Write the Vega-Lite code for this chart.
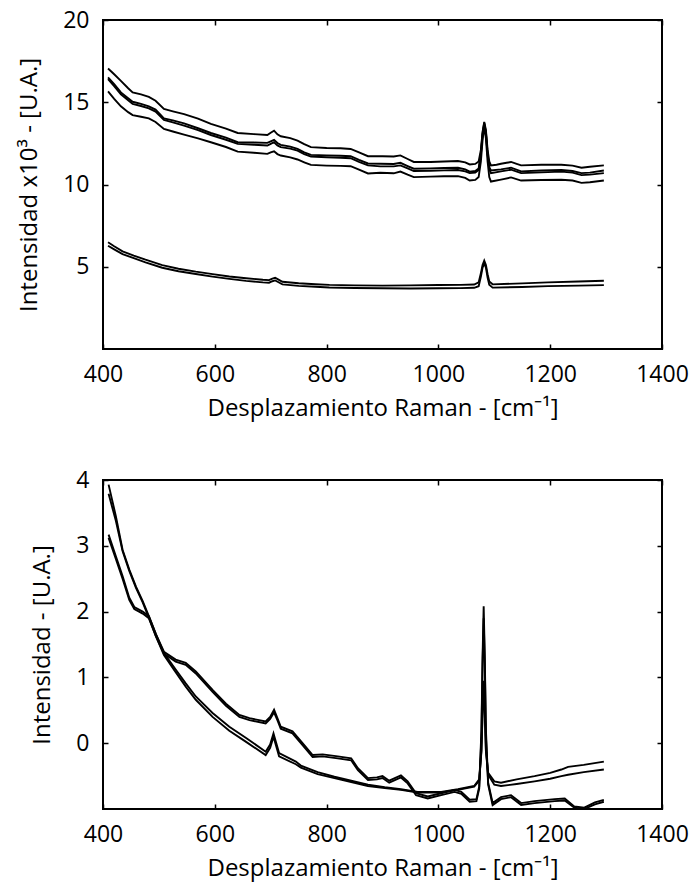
{
"$schema": "https://vega.github.io/schema/vega-lite/v6.json",
"padding": {"left": 16, "top": 8, "right": 10, "bottom": 5},
"spacing": 47,
"datasets": {
"top": [
{"s":"T1","x":409,"y":17.05},{"s":"T1","x":420,"y":16.7},{"s":"T1","x":432,"y":16.3},{"s":"T1","x":445,"y":15.85},{"s":"T1","x":453,"y":15.6},{"s":"T1","x":468,"y":15.48},{"s":"T1","x":482,"y":15.33},{"s":"T1","x":494,"y":15.09},{"s":"T1","x":509,"y":14.59},{"s":"T1","x":525,"y":14.45},{"s":"T1","x":545,"y":14.28},{"s":"T1","x":570,"y":14.0},{"s":"T1","x":593,"y":13.68},{"s":"T1","x":620,"y":13.4},{"s":"T1","x":641,"y":13.13},{"s":"T1","x":670,"y":13.06},{"s":"T1","x":694,"y":13.01},{"s":"T1","x":700,"y":13.15},{"s":"T1","x":706,"y":13.27},{"s":"T1","x":712,"y":13.05},{"s":"T1","x":718,"y":12.93},{"s":"T1","x":735,"y":12.82},{"s":"T1","x":748,"y":12.67},{"s":"T1","x":760,"y":12.45},{"s":"T1","x":772,"y":12.27},{"s":"T1","x":800,"y":12.22},{"s":"T1","x":825,"y":12.2},{"s":"T1","x":843,"y":12.16},{"s":"T1","x":858,"y":11.95},{"s":"T1","x":874,"y":11.72},{"s":"T1","x":900,"y":11.72},{"s":"T1","x":920,"y":11.7},{"s":"T1","x":932,"y":11.77},{"s":"T1","x":945,"y":11.55},{"s":"T1","x":956,"y":11.37},{"s":"T1","x":986,"y":11.37},{"s":"T1","x":1010,"y":11.4},{"s":"T1","x":1035,"y":11.43},{"s":"T1","x":1048,"y":11.35},{"s":"T1","x":1056,"y":11.22},{"s":"T1","x":1066,"y":11.25},{"s":"T1","x":1072,"y":11.4},{"s":"T1","x":1076,"y":12.1},{"s":"T1","x":1079,"y":13.2},{"s":"T1","x":1082,"y":13.8},{"s":"T1","x":1085,"y":13.3},{"s":"T1","x":1088,"y":12.1},{"s":"T1","x":1091,"y":11.4},{"s":"T1","x":1094,"y":11.16},{"s":"T1","x":1104,"y":11.2},{"s":"T1","x":1112,"y":11.26},{"s":"T1","x":1122,"y":11.32},{"s":"T1","x":1130,"y":11.37},{"s":"T1","x":1140,"y":11.25},{"s":"T1","x":1148,"y":11.16},{"s":"T1","x":1184,"y":11.2},{"s":"T1","x":1220,"y":11.2},{"s":"T1","x":1240,"y":11.15},{"s":"T1","x":1256,"y":11.02},{"s":"T1","x":1271,"y":11.08},{"s":"T1","x":1296,"y":11.16},
{"s":"T2","x":409,"y":16.51},{"s":"T2","x":420,"y":16.1},{"s":"T2","x":432,"y":15.6},{"s":"T2","x":445,"y":15.25},{"s":"T2","x":453,"y":15.03},{"s":"T2","x":468,"y":14.9},{"s":"T2","x":482,"y":14.75},{"s":"T2","x":494,"y":14.55},{"s":"T2","x":509,"y":14.02},{"s":"T2","x":525,"y":13.9},{"s":"T2","x":545,"y":13.72},{"s":"T2","x":570,"y":13.42},{"s":"T2","x":593,"y":13.13},{"s":"T2","x":620,"y":12.85},{"s":"T2","x":641,"y":12.57},{"s":"T2","x":670,"y":12.55},{"s":"T2","x":694,"y":12.53},{"s":"T2","x":700,"y":12.62},{"s":"T2","x":706,"y":12.71},{"s":"T2","x":712,"y":12.52},{"s":"T2","x":718,"y":12.41},{"s":"T2","x":735,"y":12.3},{"s":"T2","x":748,"y":12.16},{"s":"T2","x":760,"y":11.95},{"s":"T2","x":772,"y":11.8},{"s":"T2","x":800,"y":11.77},{"s":"T2","x":825,"y":11.75},{"s":"T2","x":843,"y":11.72},{"s":"T2","x":858,"y":11.5},{"s":"T2","x":874,"y":11.28},{"s":"T2","x":896,"y":11.26},{"s":"T2","x":920,"y":11.25},{"s":"T2","x":932,"y":11.32},{"s":"T2","x":945,"y":11.12},{"s":"T2","x":956,"y":10.96},{"s":"T2","x":986,"y":10.98},{"s":"T2","x":1010,"y":11.0},{"s":"T2","x":1035,"y":11.02},{"s":"T2","x":1048,"y":10.92},{"s":"T2","x":1056,"y":10.78},{"s":"T2","x":1066,"y":10.82},{"s":"T2","x":1072,"y":10.98},{"s":"T2","x":1076,"y":11.9},{"s":"T2","x":1079,"y":13.1},{"s":"T2","x":1082,"y":13.75},{"s":"T2","x":1085,"y":13.2},{"s":"T2","x":1088,"y":11.9},{"s":"T2","x":1091,"y":11.05},{"s":"T2","x":1094,"y":10.85},{"s":"T2","x":1112,"y":10.92},{"s":"T2","x":1130,"y":11.02},{"s":"T2","x":1148,"y":10.8},{"s":"T2","x":1184,"y":10.85},{"s":"T2","x":1220,"y":10.88},{"s":"T2","x":1240,"y":10.82},{"s":"T2","x":1256,"y":10.69},{"s":"T2","x":1271,"y":10.72},{"s":"T2","x":1296,"y":10.85},
{"s":"T3","x":409,"y":16.41},{"s":"T3","x":420,"y":15.98},{"s":"T3","x":432,"y":15.48},{"s":"T3","x":445,"y":15.12},{"s":"T3","x":453,"y":14.9},{"s":"T3","x":468,"y":14.77},{"s":"T3","x":482,"y":14.63},{"s":"T3","x":494,"y":14.43},{"s":"T3","x":509,"y":13.92},{"s":"T3","x":525,"y":13.78},{"s":"T3","x":545,"y":13.58},{"s":"T3","x":570,"y":13.3},{"s":"T3","x":593,"y":13.01},{"s":"T3","x":620,"y":12.72},{"s":"T3","x":641,"y":12.47},{"s":"T3","x":670,"y":12.42},{"s":"T3","x":694,"y":12.37},{"s":"T3","x":700,"y":12.47},{"s":"T3","x":706,"y":12.57},{"s":"T3","x":712,"y":12.38},{"s":"T3","x":718,"y":12.27},{"s":"T3","x":735,"y":12.18},{"s":"T3","x":748,"y":12.06},{"s":"T3","x":760,"y":11.85},{"s":"T3","x":772,"y":11.7},{"s":"T3","x":800,"y":11.66},{"s":"T3","x":825,"y":11.63},{"s":"T3","x":843,"y":11.6},{"s":"T3","x":858,"y":11.38},{"s":"T3","x":874,"y":11.16},{"s":"T3","x":896,"y":11.1},{"s":"T3","x":920,"y":11.1},{"s":"T3","x":932,"y":11.16},{"s":"T3","x":945,"y":10.98},{"s":"T3","x":956,"y":10.82},{"s":"T3","x":986,"y":10.84},{"s":"T3","x":1010,"y":10.86},{"s":"T3","x":1035,"y":10.88},{"s":"T3","x":1048,"y":10.8},{"s":"T3","x":1056,"y":10.69},{"s":"T3","x":1066,"y":10.72},{"s":"T3","x":1072,"y":10.88},{"s":"T3","x":1076,"y":11.8},{"s":"T3","x":1079,"y":13.0},{"s":"T3","x":1082,"y":13.65},{"s":"T3","x":1085,"y":13.1},{"s":"T3","x":1088,"y":11.8},{"s":"T3","x":1091,"y":10.92},{"s":"T3","x":1094,"y":10.69},{"s":"T3","x":1112,"y":10.8},{"s":"T3","x":1130,"y":10.9},{"s":"T3","x":1148,"y":10.69},{"s":"T3","x":1184,"y":10.74},{"s":"T3","x":1220,"y":10.78},{"s":"T3","x":1240,"y":10.72},{"s":"T3","x":1256,"y":10.57},{"s":"T3","x":1271,"y":10.6},{"s":"T3","x":1296,"y":10.69},
{"s":"T4","x":409,"y":15.66},{"s":"T4","x":420,"y":15.2},{"s":"T4","x":432,"y":14.75},{"s":"T4","x":445,"y":14.4},{"s":"T4","x":453,"y":14.22},{"s":"T4","x":468,"y":14.12},{"s":"T4","x":482,"y":14.02},{"s":"T4","x":494,"y":13.8},{"s":"T4","x":509,"y":13.38},{"s":"T4","x":525,"y":13.22},{"s":"T4","x":545,"y":13.03},{"s":"T4","x":570,"y":12.8},{"s":"T4","x":593,"y":12.57},{"s":"T4","x":620,"y":12.28},{"s":"T4","x":641,"y":12.0},{"s":"T4","x":670,"y":11.93},{"s":"T4","x":694,"y":11.86},{"s":"T4","x":700,"y":11.95},{"s":"T4","x":706,"y":12.02},{"s":"T4","x":712,"y":11.85},{"s":"T4","x":718,"y":11.76},{"s":"T4","x":735,"y":11.65},{"s":"T4","x":748,"y":11.52},{"s":"T4","x":760,"y":11.35},{"s":"T4","x":772,"y":11.19},{"s":"T4","x":800,"y":11.15},{"s":"T4","x":825,"y":11.13},{"s":"T4","x":843,"y":11.11},{"s":"T4","x":858,"y":10.9},{"s":"T4","x":874,"y":10.67},{"s":"T4","x":896,"y":10.71},{"s":"T4","x":920,"y":10.68},{"s":"T4","x":932,"y":10.79},{"s":"T4","x":945,"y":10.6},{"s":"T4","x":956,"y":10.45},{"s":"T4","x":986,"y":10.48},{"s":"T4","x":1010,"y":10.5},{"s":"T4","x":1035,"y":10.51},{"s":"T4","x":1048,"y":10.4},{"s":"T4","x":1056,"y":10.24},{"s":"T4","x":1066,"y":10.28},{"s":"T4","x":1072,"y":10.45},{"s":"T4","x":1076,"y":11.4},{"s":"T4","x":1079,"y":12.7},{"s":"T4","x":1082,"y":13.5},{"s":"T4","x":1085,"y":12.8},{"s":"T4","x":1088,"y":11.4},{"s":"T4","x":1091,"y":10.45},{"s":"T4","x":1094,"y":10.18},{"s":"T4","x":1112,"y":10.3},{"s":"T4","x":1130,"y":10.43},{"s":"T4","x":1148,"y":10.24},{"s":"T4","x":1184,"y":10.27},{"s":"T4","x":1220,"y":10.29},{"s":"T4","x":1240,"y":10.24},{"s":"T4","x":1256,"y":10.1},{"s":"T4","x":1271,"y":10.14},{"s":"T4","x":1296,"y":10.24},
{"s":"L1","x":409,"y":6.49},{"s":"L1","x":420,"y":6.25},{"s":"L1","x":435,"y":5.94},{"s":"L1","x":455,"y":5.68},{"s":"L1","x":476,"y":5.43},{"s":"L1","x":506,"y":5.1},{"s":"L1","x":535,"y":4.88},{"s":"L1","x":566,"y":4.7},{"s":"L1","x":596,"y":4.55},{"s":"L1","x":626,"y":4.41},{"s":"L1","x":656,"y":4.3},{"s":"L1","x":686,"y":4.21},{"s":"L1","x":697,"y":4.19},{"s":"L1","x":703,"y":4.28},{"s":"L1","x":708,"y":4.33},{"s":"L1","x":714,"y":4.22},{"s":"L1","x":721,"y":4.09},{"s":"L1","x":750,"y":4.0},{"s":"L1","x":780,"y":3.94},{"s":"L1","x":805,"y":3.9},{"s":"L1","x":850,"y":3.87},{"s":"L1","x":900,"y":3.85},{"s":"L1","x":950,"y":3.87},{"s":"L1","x":1000,"y":3.89},{"s":"L1","x":1040,"y":3.9},{"s":"L1","x":1064,"y":3.92},{"s":"L1","x":1072,"y":4.05},{"s":"L1","x":1076,"y":4.6},{"s":"L1","x":1079,"y":5.1},{"s":"L1","x":1082,"y":5.37},{"s":"L1","x":1085,"y":5.1},{"s":"L1","x":1088,"y":4.55},{"s":"L1","x":1091,"y":4.1},{"s":"L1","x":1097,"y":3.93},{"s":"L1","x":1150,"y":3.99},{"s":"L1","x":1196,"y":4.05},{"s":"L1","x":1250,"y":4.1},{"s":"L1","x":1296,"y":4.15},
{"s":"L2","x":409,"y":6.28},{"s":"L2","x":420,"y":6.06},{"s":"L2","x":435,"y":5.77},{"s":"L2","x":455,"y":5.52},{"s":"L2","x":476,"y":5.27},{"s":"L2","x":506,"y":4.94},{"s":"L2","x":535,"y":4.73},{"s":"L2","x":566,"y":4.56},{"s":"L2","x":596,"y":4.4},{"s":"L2","x":626,"y":4.26},{"s":"L2","x":656,"y":4.14},{"s":"L2","x":686,"y":4.05},{"s":"L2","x":697,"y":4.03},{"s":"L2","x":703,"y":4.12},{"s":"L2","x":708,"y":4.17},{"s":"L2","x":714,"y":4.06},{"s":"L2","x":721,"y":3.93},{"s":"L2","x":750,"y":3.84},{"s":"L2","x":780,"y":3.78},{"s":"L2","x":805,"y":3.74},{"s":"L2","x":850,"y":3.71},{"s":"L2","x":900,"y":3.69},{"s":"L2","x":950,"y":3.68},{"s":"L2","x":1000,"y":3.69},{"s":"L2","x":1040,"y":3.7},{"s":"L2","x":1064,"y":3.72},{"s":"L2","x":1072,"y":3.82},{"s":"L2","x":1076,"y":4.4},{"s":"L2","x":1079,"y":4.95},{"s":"L2","x":1082,"y":5.2},{"s":"L2","x":1085,"y":4.95},{"s":"L2","x":1088,"y":4.35},{"s":"L2","x":1091,"y":3.9},{"s":"L2","x":1097,"y":3.73},{"s":"L2","x":1150,"y":3.77},{"s":"L2","x":1196,"y":3.82},{"s":"L2","x":1250,"y":3.85},{"s":"L2","x":1296,"y":3.88}
],
"bottom": [
{"s":"X1","x":410,"y":3.17},{"s":"X1","x":423,"y":2.84},{"s":"X1","x":435,"y":2.54},{"s":"X1","x":447,"y":2.21},{"s":"X1","x":456,"y":2.07},{"s":"X1","x":471,"y":2.0},{"s":"X1","x":482,"y":1.93},{"s":"X1","x":495,"y":1.65},{"s":"X1","x":509,"y":1.39},{"s":"X1","x":530,"y":1.27},{"s":"X1","x":548,"y":1.22},{"s":"X1","x":566,"y":1.09},{"s":"X1","x":596,"y":0.81},{"s":"X1","x":620,"y":0.6},{"s":"X1","x":644,"y":0.43},{"s":"X1","x":662,"y":0.38},{"s":"X1","x":691,"y":0.33},{"s":"X1","x":699,"y":0.4},{"s":"X1","x":706,"y":0.51},{"s":"X1","x":712,"y":0.38},{"s":"X1","x":718,"y":0.25},{"s":"X1","x":739,"y":0.18},{"s":"X1","x":757,"y":0.0},{"s":"X1","x":775,"y":-0.18},{"s":"X1","x":793,"y":-0.17},{"s":"X1","x":820,"y":-0.2},{"s":"X1","x":844,"y":-0.23},{"s":"X1","x":856,"y":-0.38},{"s":"X1","x":874,"y":-0.53},{"s":"X1","x":890,"y":-0.52},{"s":"X1","x":900,"y":-0.5},{"s":"X1","x":912,"y":-0.57},{"s":"X1","x":933,"y":-0.49},{"s":"X1","x":945,"y":-0.58},{"s":"X1","x":960,"y":-0.76},{"s":"X1","x":981,"y":-0.81},{"s":"X1","x":1005,"y":-0.76},{"s":"X1","x":1029,"y":-0.71},{"s":"X1","x":1041,"y":-0.74},{"s":"X1","x":1056,"y":-0.86},{"s":"X1","x":1068,"y":-0.85},{"s":"X1","x":1073,"y":-0.66},{"s":"X1","x":1077,"y":0.2},{"s":"X1","x":1079,"y":1.3},{"s":"X1","x":1081,"y":2.08},{"s":"X1","x":1083,"y":1.3},{"s":"X1","x":1085,"y":0.2},{"s":"X1","x":1089,"y":-0.6},{"s":"X1","x":1097,"y":-0.91},{"s":"X1","x":1112,"y":-0.82},{"s":"X1","x":1130,"y":-0.79},{"s":"X1","x":1148,"y":-0.91},{"s":"X1","x":1172,"y":-0.88},{"s":"X1","x":1208,"y":-0.85},{"s":"X1","x":1226,"y":-0.84},{"s":"X1","x":1243,"y":-0.96},{"s":"X1","x":1261,"y":-0.98},{"s":"X1","x":1280,"y":-0.9},{"s":"X1","x":1296,"y":-0.86},
{"s":"X2","x":410,"y":3.12},{"s":"X2","x":423,"y":2.8},{"s":"X2","x":435,"y":2.5},{"s":"X2","x":447,"y":2.18},{"s":"X2","x":456,"y":2.04},{"s":"X2","x":471,"y":1.97},{"s":"X2","x":482,"y":1.9},{"s":"X2","x":495,"y":1.62},{"s":"X2","x":509,"y":1.36},{"s":"X2","x":530,"y":1.24},{"s":"X2","x":548,"y":1.19},{"s":"X2","x":566,"y":1.06},{"s":"X2","x":596,"y":0.78},{"s":"X2","x":620,"y":0.57},{"s":"X2","x":644,"y":0.4},{"s":"X2","x":662,"y":0.35},{"s":"X2","x":691,"y":0.3},{"s":"X2","x":699,"y":0.37},{"s":"X2","x":706,"y":0.47},{"s":"X2","x":712,"y":0.35},{"s":"X2","x":718,"y":0.22},{"s":"X2","x":739,"y":0.15},{"s":"X2","x":757,"y":-0.03},{"s":"X2","x":775,"y":-0.21},{"s":"X2","x":793,"y":-0.2},{"s":"X2","x":820,"y":-0.23},{"s":"X2","x":844,"y":-0.26},{"s":"X2","x":856,"y":-0.41},{"s":"X2","x":874,"y":-0.56},{"s":"X2","x":890,"y":-0.55},{"s":"X2","x":900,"y":-0.53},{"s":"X2","x":912,"y":-0.6},{"s":"X2","x":933,"y":-0.52},{"s":"X2","x":945,"y":-0.61},{"s":"X2","x":960,"y":-0.79},{"s":"X2","x":981,"y":-0.84},{"s":"X2","x":1005,"y":-0.79},{"s":"X2","x":1029,"y":-0.74},{"s":"X2","x":1041,"y":-0.77},{"s":"X2","x":1056,"y":-0.89},{"s":"X2","x":1068,"y":-0.88},{"s":"X2","x":1073,"y":-0.69},{"s":"X2","x":1077,"y":0.1},{"s":"X2","x":1079,"y":1.2},{"s":"X2","x":1081,"y":1.9},{"s":"X2","x":1083,"y":1.2},{"s":"X2","x":1085,"y":0.1},{"s":"X2","x":1089,"y":-0.63},{"s":"X2","x":1097,"y":-0.94},{"s":"X2","x":1112,"y":-0.85},{"s":"X2","x":1130,"y":-0.82},{"s":"X2","x":1148,"y":-0.94},{"s":"X2","x":1172,"y":-0.91},{"s":"X2","x":1208,"y":-0.88},{"s":"X2","x":1226,"y":-0.87},{"s":"X2","x":1243,"y":-0.98},{"s":"X2","x":1261,"y":-1.0},{"s":"X2","x":1280,"y":-0.93},{"s":"X2","x":1296,"y":-0.89},
{"s":"Y1","x":410,"y":3.93},{"s":"Y1","x":423,"y":3.45},{"s":"Y1","x":435,"y":2.94},{"s":"Y1","x":447,"y":2.64},{"s":"Y1","x":459,"y":2.38},{"s":"Y1","x":471,"y":2.16},{"s":"Y1","x":482,"y":1.93},{"s":"Y1","x":494,"y":1.67},{"s":"Y1","x":509,"y":1.37},{"s":"Y1","x":530,"y":1.12},{"s":"Y1","x":548,"y":0.91},{"s":"Y1","x":566,"y":0.71},{"s":"Y1","x":596,"y":0.46},{"s":"Y1","x":626,"y":0.25},{"s":"Y1","x":656,"y":0.08},{"s":"Y1","x":691,"y":-0.13},{"s":"Y1","x":699,"y":-0.02},{"s":"Y1","x":705,"y":0.15},{"s":"Y1","x":710,"y":0.0},{"s":"Y1","x":715,"y":-0.15},{"s":"Y1","x":745,"y":-0.28},{"s":"Y1","x":754,"y":-0.34},{"s":"Y1","x":784,"y":-0.44},{"s":"Y1","x":814,"y":-0.51},{"s":"Y1","x":844,"y":-0.57},{"s":"Y1","x":874,"y":-0.63},{"s":"Y1","x":904,"y":-0.67},{"s":"Y1","x":933,"y":-0.7},{"s":"Y1","x":963,"y":-0.74},{"s":"Y1","x":1005,"y":-0.74},{"s":"Y1","x":1035,"y":-0.7},{"s":"Y1","x":1064,"y":-0.65},{"s":"Y1","x":1073,"y":-0.55},{"s":"Y1","x":1077,"y":-0.1},{"s":"Y1","x":1079,"y":0.5},{"s":"Y1","x":1081,"y":0.95},{"s":"Y1","x":1083,"y":0.5},{"s":"Y1","x":1085,"y":-0.1},{"s":"Y1","x":1089,"y":-0.45},{"s":"Y1","x":1100,"y":-0.58},{"s":"Y1","x":1112,"y":-0.6},{"s":"Y1","x":1140,"y":-0.55},{"s":"Y1","x":1172,"y":-0.5},{"s":"Y1","x":1200,"y":-0.45},{"s":"Y1","x":1220,"y":-0.4},{"s":"Y1","x":1232,"y":-0.36},{"s":"Y1","x":1260,"y":-0.33},{"s":"Y1","x":1296,"y":-0.28},
{"s":"Y2","x":410,"y":3.79},{"s":"Y2","x":423,"y":3.38},{"s":"Y2","x":435,"y":2.92},{"s":"Y2","x":447,"y":2.62},{"s":"Y2","x":459,"y":2.36},{"s":"Y2","x":471,"y":2.14},{"s":"Y2","x":482,"y":1.91},{"s":"Y2","x":494,"y":1.64},{"s":"Y2","x":509,"y":1.34},{"s":"Y2","x":530,"y":1.08},{"s":"Y2","x":548,"y":0.86},{"s":"Y2","x":566,"y":0.66},{"s":"Y2","x":596,"y":0.4},{"s":"Y2","x":626,"y":0.19},{"s":"Y2","x":656,"y":0.02},{"s":"Y2","x":691,"y":-0.18},{"s":"Y2","x":699,"y":-0.07},{"s":"Y2","x":705,"y":0.1},{"s":"Y2","x":710,"y":-0.05},{"s":"Y2","x":715,"y":-0.2},{"s":"Y2","x":745,"y":-0.32},{"s":"Y2","x":754,"y":-0.37},{"s":"Y2","x":784,"y":-0.47},{"s":"Y2","x":814,"y":-0.53},{"s":"Y2","x":844,"y":-0.59},{"s":"Y2","x":874,"y":-0.65},{"s":"Y2","x":904,"y":-0.68},{"s":"Y2","x":933,"y":-0.71},{"s":"Y2","x":963,"y":-0.75},{"s":"Y2","x":1005,"y":-0.75},{"s":"Y2","x":1035,"y":-0.71},{"s":"Y2","x":1064,"y":-0.66},{"s":"Y2","x":1073,"y":-0.57},{"s":"Y2","x":1077,"y":-0.12},{"s":"Y2","x":1079,"y":0.45},{"s":"Y2","x":1081,"y":0.9},{"s":"Y2","x":1083,"y":0.45},{"s":"Y2","x":1085,"y":-0.12},{"s":"Y2","x":1089,"y":-0.48},{"s":"Y2","x":1100,"y":-0.63},{"s":"Y2","x":1112,"y":-0.65},{"s":"Y2","x":1140,"y":-0.62},{"s":"Y2","x":1172,"y":-0.58},{"s":"Y2","x":1200,"y":-0.54},{"s":"Y2","x":1220,"y":-0.5},{"s":"Y2","x":1232,"y":-0.48},{"s":"Y2","x":1260,"y":-0.44},{"s":"Y2","x":1296,"y":-0.4}
]
},
"vconcat": [
{
"width": 559, "height": 329,
"layer": [
{"data": {"name": "top"}, "mark": {"type": "line", "clip": true, "color": "black", "strokeWidth": 1.9},
 "encoding": {
  "x": {"field": "x", "type": "quantitative", "scale": {"domain": [400, 1400], "nice": false, "zero": false}, "axis": {"values": [400, 600, 800, 1000, 1200, 1400], "format": "d", "title": "Desplazamiento Raman - [cm⁻¹]"}},
  "y": {"field": "y", "type": "quantitative", "scale": {"domain": [0, 20], "nice": false, "zero": false}, "axis": {"values": [5, 10, 15, 20], "format": "d", "title": "Intensidad x10³ - [U.A.]"}},
  "detail": {"field": "s"}}},
{"data": {"name": "top"}, "mark": {"type": "line", "clip": true, "strokeOpacity": 0},
 "encoding": {
  "x": {"field": "x", "type": "quantitative", "scale": {"domain": [400, 1400], "nice": false, "zero": false}, "axis": {"orient": "top", "values": [400, 600, 800, 1000, 1200, 1400], "labels": false, "title": null}},
  "y": {"field": "y", "type": "quantitative", "scale": {"domain": [0, 20], "nice": false, "zero": false}, "axis": {"orient": "right", "values": [5, 10, 15, 20], "labels": false, "title": null}},
  "detail": {"field": "s"}}}
],
"resolve": {"axis": {"x": "independent", "y": "independent"}}
},
{
"width": 559, "height": 329,
"layer": [
{"data": {"name": "bottom"}, "mark": {"type": "line", "clip": true, "color": "black", "strokeWidth": 1.9},
 "encoding": {
  "x": {"field": "x", "type": "quantitative", "scale": {"domain": [400, 1400], "nice": false, "zero": false}, "axis": {"values": [400, 600, 800, 1000, 1200, 1400], "format": "d", "title": "Desplazamiento Raman - [cm⁻¹]"}},
  "y": {"field": "y", "type": "quantitative", "scale": {"domain": [-1, 4], "nice": false, "zero": false}, "axis": {"values": [0, 1, 2, 3, 4], "format": "d", "title": "Intensidad - [U.A.]"}},
  "detail": {"field": "s"}}},
{"data": {"name": "bottom"}, "mark": {"type": "line", "clip": true, "strokeOpacity": 0},
 "encoding": {
  "x": {"field": "x", "type": "quantitative", "scale": {"domain": [400, 1400], "nice": false, "zero": false}, "axis": {"orient": "top", "values": [400, 600, 800, 1000, 1200, 1400], "labels": false, "title": null}},
  "y": {"field": "y", "type": "quantitative", "scale": {"domain": [-1, 4], "nice": false, "zero": false}, "axis": {"orient": "right", "values": [0, 1, 2, 3, 4], "labels": false, "title": null}},
  "detail": {"field": "s"}}}
],
"resolve": {"axis": {"x": "independent", "y": "independent"}}
}
],
"config": {
 "font": "Open Sans",
 "view": {"stroke": "black", "strokeWidth": 2},
 "axis": {"domain": false, "grid": false, "ticks": true, "offset": -5, "tickColor": "black", "tickSize": 5, "tickWidth": 1.5, "labelColor": "black", "labelFont": "Open Sans", "labelFontSize": 23, "labelPadding": 14, "labelFlush": false, "labelOverlap": false, "titleFont": "Open Sans", "titleFontSize": 24, "titleFontWeight": "normal", "titleColor": "black", "titlePadding": 10},
 "axisY": {"labelPadding": 14, "titlePadding": 21}
}
}
